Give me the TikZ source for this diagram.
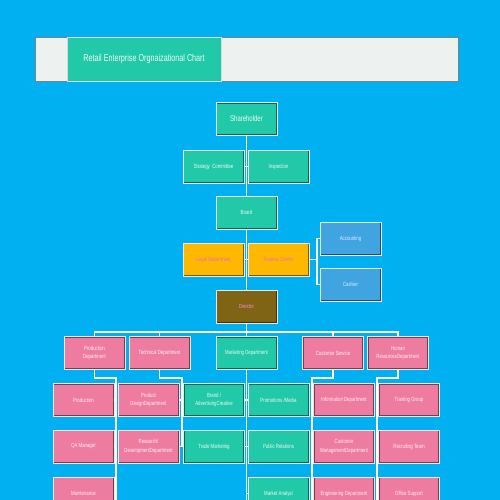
\documentclass[tikz,border=0pt]{standalone}
\usepackage{fontspec}
\setmainfont{Liberation Sans}[FakeStretch=0.72]
\definecolor{bg}{HTML}{00B0F0}
\definecolor{grn}{HTML}{22C9A8}
\definecolor{pnk}{HTML}{EE7BA0}
\definecolor{org}{HTML}{FFB800}
\definecolor{blu}{HTML}{3FA4E0}
\definecolor{brn}{HTML}{7F6416}
\definecolor{bar}{HTML}{EDF2F0}
\definecolor{txg}{HTML}{EAFBF5}
\definecolor{txp}{HTML}{FFF2F7}
\definecolor{txo}{HTML}{F06AB8}
\definecolor{txd}{HTML}{FF8CC4}
\definecolor{txb}{HTML}{DDF0FF}
\tikzset{
  box/.style={rectangle, minimum width=61, minimum height=33, inner sep=1pt,
    align=center, font=\fontsize{6}{8.6}\selectfont,
    draw=white!82!gray, line width=0.9pt,
    path picture={\draw[black, opacity=0.5, line width=2.4pt]
      (path picture bounding box.south west) rectangle (path picture bounding box.north east);}},
  gbox/.style={box, fill=grn, text=txg},
  pbox/.style={box, fill=pnk, text=txp},
  obox/.style={box, fill=org, text=txo},
  bbox/.style={box, fill=blu, text=txb},
  dbox/.style={box, fill=brn, text=txd},
  conn/.style={draw=white, line width=1.3pt},
}
\begin{document}
\begin{tikzpicture}[x=1pt,y=-1pt]
\useasboundingbox (0,0) rectangle (500,500);
\clip (0,0) rectangle (500,500);
\fill[bg] (0,0) rectangle (500,500);
% title bar
\node[rectangle, draw=gray, line width=0.8pt, fill=bar, minimum width=423, minimum height=44, inner sep=0] (titlebar) at (246.5,59) {};
\node[rectangle, draw=white!70!gray, line width=0.6pt, fill=grn, minimum width=154, minimum height=44, inner sep=0,
  text=txg, font=\fontsize{10}{12}\selectfont] (title) at (144,59) {Retail Enterprise Orgnaizational Chart};
% top chain
\node[gbox, font=\fontsize{8.3}{10}\selectfont] (sh) at (246.5,119) {Shareholder};
\node[gbox] (sc) at (213.5,166.5) {Strategy\ \ Committee};
\node[gbox] (insp) at (278.5,166.5) {Inspection};
\node[gbox] (board) at (246.5,212.5) {Board};
\node[obox] (legal) at (213.5,259.5) {Legal Department};
\node[obox] (fin) at (278.5,259.5) {Finance Center};
\node[bbox] (acc) at (350.5,238.5) {Accounting};
\node[bbox] (cash) at (350.5,284.5) {Cashier};
\node[dbox] (dir) at (246.5,306.5) {Director};
% departments
\node[pbox] (pd) at (94.5,353) {Production\\Department};
\node[pbox] (td) at (159.5,353) {Technical Department};
\node[gbox] (md) at (246.5,353) {Marketing Department};
\node[pbox] (cs) at (333,353) {Customer Service};
\node[pbox] (hr) at (398,353) {Human\\ResourcesDepartment};
% row 1
\node[pbox] (prod) at (83.5,400) {Production};
\node[pbox] (pdes) at (148.5,400) {Product\\DesignDepartment};
\node[gbox] (brand) at (214,400) {Brand /\\AdvertisingCreative};
\node[gbox] (promo) at (278.5,400) {Promotions /Media};
\node[pbox] (info) at (344,400) {Information Department};
\node[pbox] (train) at (409,400) {Training Group};
% row 2
\node[pbox] (qa) at (83.5,446.5) {QA Manager};
\node[pbox] (rd) at (148.5,446.5) {Research/\\DevelopmentDepartment};
\node[gbox] (trade) at (214,446.5) {Trade Marketing};
\node[gbox] (pr) at (278.5,446.5) {Public Relations};
\node[pbox] (cm) at (344,446.5) {Customer\\ManagementDepartment};
\node[pbox] (recr) at (409,446.5) {Recruiting Team};
% row 3
\node[pbox] (maint) at (83.5,493.5) {Maintenance};
\node[gbox] (ma) at (278.5,493.5) {Market Analyst};
\node[pbox] (eng) at (344,493.5) {Engineering Department};
\node[pbox] (office) at (409,493.5) {Office Support};
% coordinates
\coordinate (fj) at (317,259.5);
\coordinate (pbot) at (116,506);
\coordinate (tend) at (182,446.5);
\coordinate (mbot) at (246.5,506);
\coordinate (cbot) at (312,506);
\coordinate (hbot) at (377,506);
% connectors
\draw[conn] (sh.south) -- (board.north);
\draw[conn] (sc.east) -- (insp.west);
\draw[conn] (board.south) -- (dir.north);
\draw[conn] (legal.east) -- (fin.west);
\draw[conn] (fin.east) -- (fj);
\draw[conn] (acc.west) -- (acc.west -| fj) -- (cash.west -| fj) -- (cash.west);
\draw[conn] (dir.south) -- (md.north);
\draw[conn] (pd.north) -- ++(0,-4) -| (hr.north);
\draw[conn] (td.north) -- ++(0,-4);
\draw[conn] (cs.north) -- ++(0,-4);
\draw[conn] (pd.south) -- ++(0,8) -| (pbot);
\draw[conn] (prod.east) -- (prod.east -| pbot);
\draw[conn] (qa.east) -- (qa.east -| pbot);
\draw[conn] (maint.east) -- (maint.east -| pbot);
\draw[conn] (td.south) -- ++(0,8) -| (tend) -- (rd.east);
\draw[conn] (pdes.east) -- (pdes.east -| tend);
\draw[conn] (md.south) -- (mbot);
\draw[conn] (brand.east) -- (brand.east -| mbot);
\draw[conn] (trade.east) -- (trade.east -| mbot);
\draw[conn] (promo.west) -- (promo.west -| mbot);
\draw[conn] (pr.west) -- (pr.west -| mbot);
\draw[conn] (ma.west) -- (ma.west -| mbot);
\draw[conn] (cs.south) -- ++(0,8) -| (cbot);
\draw[conn] (info.west) -- (info.west -| cbot);
\draw[conn] (cm.west) -- (cm.west -| cbot);
\draw[conn] (eng.west) -- (eng.west -| cbot);
\draw[conn] (hr.south) -- ++(0,8) -| (hbot);
\draw[conn] (train.west) -- (train.west -| hbot);
\draw[conn] (recr.west) -- (recr.west -| hbot);
\draw[conn] (office.west) -- (office.west -| hbot);
\end{tikzpicture}
\end{document}
